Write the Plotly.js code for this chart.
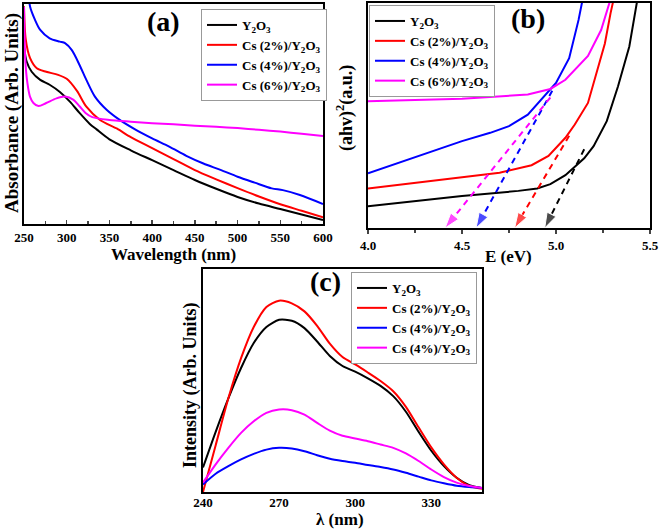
<!DOCTYPE html>
<html>
<head>
<meta charset="utf-8">
<script src="https://cdn.plot.ly/plotly-3.0.1.min.js"></script>
<style>html,body{margin:0;padding:0;background:#fff;}#chart{width:661px;height:532px;}</style>
</head>
<body>
<div id="chart"></div>
<script>
// ---------- Panel (a): UV-Vis absorbance ----------
var aBlackX = [250, 253, 259, 269, 280, 292, 304, 315, 327, 335, 350, 375, 400, 425, 450, 475, 500, 525, 550, 575, 600];
var aBlackY = [80.6, 74, 69.2, 65.5, 63.3, 60, 55.5, 50.5, 45.5, 43, 38.5, 33.5, 29, 24.5, 20, 16, 12.3, 9.3, 6.8, 4.3, 1.8];
var aRedX = [250, 252, 257, 265, 276, 290, 300, 312, 323, 339, 359, 375, 400, 425, 450, 475, 500, 525, 550, 575, 600];
var aRedY = [99, 84, 75.5, 70.8, 69.2, 67.8, 66, 60.5, 53.3, 47.3, 43.3, 39.5, 34.5, 29.5, 24.5, 20.3, 16.3, 12.5, 9, 6, 3];
var aBlueX = [255, 257, 263, 269, 280, 292, 298, 306, 315, 323, 333, 347, 362, 380, 400, 420, 440, 460, 480, 500, 520, 540, 553, 573, 600];
var aBlueY = [108, 99, 92.7, 88.2, 84.4, 82.9, 82.2, 79, 72.3, 65.5, 57.9, 51.8, 47.3, 43, 38.9, 35.2, 31, 27.5, 24.6, 21.5, 18.8, 16.2, 15.4, 13.2, 9.1];
var aMagX = [250, 251.5, 254, 257, 261, 267, 276, 288, 298, 308, 315, 322, 330, 350, 375, 400, 425, 450, 475, 500, 525, 550, 575, 600];
var aMagY = [98.6, 74.5, 64, 57.9, 55, 53.6, 55, 57.1, 57.9, 56.4, 53.5, 50.5, 48.6, 47.3, 46.5, 45.8, 45.3, 44.7, 44.2, 43.6, 42.8, 42, 41, 40];
var aTicks = [250, 300, 350, 400, 450, 500, 550, 600];

// ---------- Panel (b): Tauc plot ----------
var bBlackX = [4.0, 4.5, 4.8, 4.9, 4.97, 5.05, 5.15, 5.2, 5.27, 5.33, 5.39, 5.44];
var bBlackY = [9.7, 14.2, 16.5, 17.6, 19.5, 23.5, 31, 36.4, 47.5, 63, 80.7, 105];
var bRedX = [4.0, 4.5, 4.7, 4.87, 4.96, 5.05, 5.1, 5.17, 5.22, 5.26, 5.29, 5.31];
var bRedY = [17.6, 22.4, 24.6, 27.9, 32, 40.1, 46, 55.6, 70.4, 82, 95.4, 103];
var bBlueX = [4.0, 4.25, 4.5, 4.65, 4.75, 4.85, 4.92, 5.0, 5.07, 5.12, 5.145];
var bBlueY = [24.3, 31.3, 38.6, 42.3, 45.3, 50.4, 57, 64.5, 75.5, 92.5, 103];
var bMagX = [4.0, 4.5, 4.85, 4.97, 5.05, 5.17, 5.24, 5.28, 5.295];
var bMagY = [56.3, 57.4, 59.3, 61.8, 65.9, 76.5, 88, 98.3, 103];
// tangent extrapolation: start point on curve and band-gap intercept (eV)
var tanStartE = [5.15, 5.07, 4.98, 4.97];
var tanStartY = [35, 41, 61, 58];
var bandGapE = [4.94, 4.78, 4.575, 4.41];

// ---------- Panel (c): PL intensity ----------
var cX = [240, 245, 250, 255, 260, 265, 270, 275, 280, 285, 290, 295, 300, 305, 310, 315, 320, 325, 330, 335, 340, 345, 350];
var cBlack = [11, 27, 42, 55.6, 66.8, 74, 77.2, 76.8, 73.5, 67.5, 61, 56.5, 54, 51, 47.6, 43, 36, 27, 18.5, 11.6, 6.4, 3.1, 1.8];
var cRed = [0, 21, 42, 60, 74, 83, 85.8, 84.6, 81, 74.5, 66.5, 60.5, 57.2, 53.6, 49.8, 45.2, 38.2, 29, 20, 12.4, 6.4, 2.7, 1.5];
var cBlue = [3.4, 8.2, 11.6, 14.6, 17.1, 19, 19.8, 19.5, 18.3, 16.5, 14.9, 13.9, 13.1, 12.1, 11.2, 10.1, 8.6, 6.9, 5.2, 3.9, 2.8, 2.2, 1.8];
var cMag = [4.2, 12.4, 19.8, 26.5, 31.7, 35.5, 37, 36.7, 34.7, 31, 27.5, 25.2, 24, 22.8, 21.3, 19.8, 17.3, 13.9, 10.1, 6.7, 4.2, 2.7, 1.8];
var cTicks = [240, 270, 300, 330];

var namesAB = ['Y<sub>2</sub>O<sub>3</sub>', 'Cs (2%)/Y<sub>2</sub>O<sub>3</sub>', 'Cs (4%)/Y<sub>2</sub>O<sub>3</sub>', 'Cs (6%)/Y<sub>2</sub>O<sub>3</sub>'];
var namesC = ['Y<sub>2</sub>O<sub>3</sub>', 'Cs (2%)/Y<sub>2</sub>O<sub>3</sub>', 'Cs (4%)/Y<sub>2</sub>O<sub>3</sub>', 'Cs (4%)/Y<sub>2</sub>O<sub>3</sub>'];
var colors = ['#000000', '#ff0000', '#0000ff', '#ff00ff'];

var FONT = 'Liberation Serif, Times New Roman, serif';
var traces = [];

var aXs = [aBlackX, aRedX, aBlueX, aMagX], aYs = [aBlackY, aRedY, aBlueY, aMagY];
for (var i = 0; i < 4; i++) {
  traces.push({x: aXs[i], y: aYs[i], name: namesAB[i], xaxis: 'x', yaxis: 'y', mode: 'lines',
    line: {color: colors[i], width: 2, shape: 'spline', smoothing: 0.8}, legend: 'legend'});
}
var bXs = [bBlackX, bRedX, bBlueX, bMagX], bYs = [bBlackY, bRedY, bBlueY, bMagY];
for (var i = 0; i < 4; i++) {
  traces.push({x: bXs[i], y: bYs[i], name: namesAB[i], xaxis: 'x2', yaxis: 'y2', mode: 'lines',
    line: {color: colors[i], width: 2}, legend: 'legend2'});
}
for (var i = 0; i < 4; i++) {
  traces.push({x: [tanStartE[i], bandGapE[i]], y: [tanStartY[i], 0], xaxis: 'x2', yaxis: 'y2',
    mode: 'lines+markers', showlegend: false, hoverinfo: 'skip', cliponaxis: false,
    line: {color: colors[i], width: 2, dash: '6px,5px'},
    marker: {symbol: ['circle', 'arrow'], size: [0, 16], color: colors[i], angleref: 'previous'}});
}
var cYs = [cBlack, cRed, cBlue, cMag];
for (var i = 0; i < 4; i++) {
  traces.push({x: cX, y: cYs[i], name: namesC[i], xaxis: 'x3', yaxis: 'y3', mode: 'lines',
    line: {color: colors[i], width: 2, shape: 'spline', smoothing: 0.7}, legend: 'legend3'});
}

function W(px) { return px / 661; }
function H(py) { return 1 - py / 532; }

var axisBase = {showline: true, mirror: true, linecolor: '#000', linewidth: 2, showgrid: false, zeroline: false,
  tickfont: {family: FONT, size: 13, color: '#000', weight: 'bold'}};
function ax(extra) { var o = {}; for (var k in axisBase) o[k] = axisBase[k]; for (var k in extra) o[k] = extra[k]; return o; }

var legBase = function (x, y) {
  return {x: x, y: y, xanchor: 'left', yanchor: 'top', bgcolor: '#fff', bordercolor: '#999', borderwidth: 1,
    font: {family: FONT, size: 13, color: '#000', weight: 'bold'}, itemwidth: 30};
};

function ann(text, x, y, size, angle) {
  return {text: text, x: W(x), y: H(y), xref: 'paper', yref: 'paper', showarrow: false, xanchor: 'center', yanchor: 'middle',
    textangle: angle || 0, font: {family: FONT, size: size, color: '#000', weight: 'bold'}};
}

var layout = {
  width: 661, height: 532, margin: {l: 0, r: 0, t: 0, b: 0}, paper_bgcolor: '#fff', plot_bgcolor: '#fff',
  font: {family: FONT, color: '#000', weight: 'bold'},
  xaxis: ax({domain: [W(24), W(323)], range: [250, 600], tickvals: aTicks, ticks: 'inside', ticklen: 4, tickwidth: 1.5,
    minor: {dtick: 25, ticks: 'inside', ticklen: 3, tickwidth: 1.5}, anchor: 'y'}),
  yaxis: ax({domain: [H(224), H(4)], range: [0, 100], showticklabels: false, ticks: '', anchor: 'x'}),
  xaxis2: ax({domain: [W(368), W(650)], range: [4.0, 5.5], dtick: 0.5, tick0: 4, tickformat: '.1f', ticks: 'outside', ticklen: 4, tickwidth: 1.5,
    minor: {dtick: 0.25, ticks: 'outside', ticklen: 3, tickwidth: 1.5}, anchor: 'y2'}),
  yaxis2: ax({domain: [H(228), H(3)], range: [0, 100], showticklabels: false, ticks: '', anchor: 'x2'}),
  xaxis3: ax({domain: [W(203), W(482)], range: [240, 350], tickvals: cTicks, ticks: '', ticklabelstandoff: -3, anchor: 'y3'}),
  yaxis3: ax({domain: [H(492), H(269)], range: [0, 100], showticklabels: false, ticks: '', anchor: 'x3'}),
  legend: legBase(W(201), H(9)),
  legend2: legBase(W(369), H(5)),
  legend3: legBase(W(351), H(272)),
  annotations: [
    ann('(a)', 163, 21, 28), ann('(b)', 528, 19, 28), ann('(c)', 325, 281, 28),
    ann('Absorbance (Arb. Units)', 12, 113, 19, -90),
    ann('Wavelength (nm)', 173, 254, 17),
    ann('(ahv)<sup>2</sup>(a.u.)', 345, 108, 18, -90),
    ann('E (eV)', 508, 256, 17),
    ann('Intensity (Arb. Units)', 190, 385, 18, -90),
    ann('λ (nm)', 340, 519, 17)
  ]
};

Plotly.newPlot('chart', traces, layout, {staticPlot: true});
</script>
</body>
</html>
